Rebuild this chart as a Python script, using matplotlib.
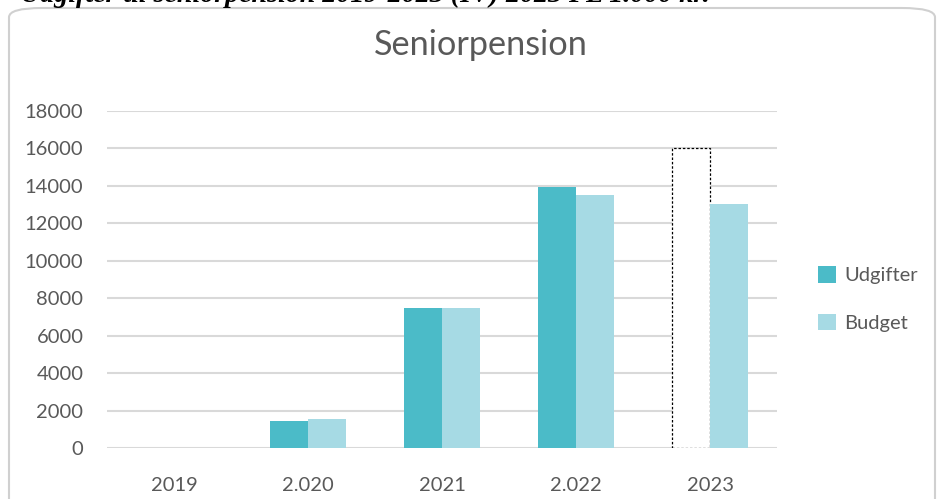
import numpy as np
import matplotlib.pyplot as plt
from matplotlib.patches import FancyBboxPatch, Patch

years = ["2019", "2.020", "2021", "2.022", "2023"]
udgifter = [0, 1450, 7500, 13950, 16000]
budget = [0, 1550, 7500, 13500, 13050]

teal = "#4BBBC8"
light = "#A6DAE4"
grey = "#595959"

plt.rcParams["font.family"] = ["Lato", "DejaVu Sans"]

fig = plt.figure(figsize=(9.41, 4.99), dpi=100)

# frame of the embedded chart
frame = FancyBboxPatch((9 / 941, -0.1), 926 / 941, 0.1 + 1 - 8 / 499,
                       boxstyle="round,pad=0,rounding_size=0.035",
                       transform=fig.transFigure, facecolor="white",
                       edgecolor="#D0D0D0", linewidth=1.5, mutation_aspect=499 / 941,
                       zorder=-5)
fig.patches.append(frame)

# document caption, clipped at the top
fig.text(20 / 941, 1 - 1.5 / 499, "Udgifter til seniorpension 2019-2023 (IV) 2023 PL 1.000 kr.",
         family="Liberation Serif", weight="bold", style="italic", fontsize=20.2,
         va="baseline", ha="left", color="black")

ax = fig.add_axes([107 / 941, 1 - 448 / 499, 670 / 941, 337 / 499])
ax.set_facecolor("none")

x = np.arange(len(years))
w = 0.287
b1 = ax.bar(x - w / 2, udgifter, w, color=teal, zorder=3)
b2 = ax.bar(x + w / 2, budget, w, color=light, zorder=3)

# 2023 expenses shown as dotted outline only
last = b1.patches[-1]
last.set_facecolor("white")
last.set_edgecolor("black")
last.set_linestyle((0, (2, 1.5)))
last.set_linewidth(0.9)

ax.set_xlim(-0.5, len(years) - 0.5)
ax.set_ylim(0, 18000)
ax.set_yticks(np.arange(0, 18001, 2000))
ax.set_xticks(x)
ax.set_xticklabels(years)
ax.yaxis.grid(True, color="#D9D9D9", linewidth=1.5, zorder=0)
ax.set_axisbelow(True)
for s in ax.spines.values():
    s.set_visible(False)
ax.tick_params(axis="both", length=0, labelsize=14.5, colors=grey)
ax.tick_params(axis="x", pad=21)
ax.tick_params(axis="y", pad=17)

fig.text(481 / 941, 1 - 45 / 499, "Seniorpension", fontsize=24.7, color=grey,
         ha="center", va="center")

handles = [Patch(facecolor=teal), Patch(facecolor=light)]
fig.legend(handles, ["Udgifter", "Budget"], loc="center left",
           bbox_to_anchor=(800 / 941, 1 - 299 / 499), frameon=False,
           fontsize=14.5, labelcolor=grey, handlelength=0.9, handleheight=0.9,
           handletextpad=0.4, labelspacing=1.45)

fig.savefig("out.png", dpi=100)
